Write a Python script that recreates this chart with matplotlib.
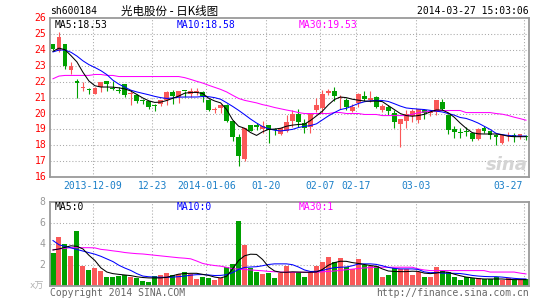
import matplotlib
matplotlib.use("Agg")
import matplotlib.pyplot as plt
import matplotlib.transforms as mtrans

# ---------------- data ----------------
opens = [24.35, 23.95, 24.35, 22.77, 22.02, 21.60, 21.56, 21.25, 21.67, 22.02,
         21.60, 21.50, 21.83, 21.20, 21.19, 20.85, 20.79, 20.50, 20.62, 20.83,
         21.33, 21.04, 21.45, 21.25, 21.30, 21.33, 20.88, 20.20, 20.35, 20.55,
         19.52, 18.50, 17.13, 19.27, 19.22, 19.00, 19.25, 19.00, 18.70, 18.90,
         19.52, 19.96, 19.42, 19.17, 20.20, 20.35, 21.30, 21.40, 20.95, 20.83,
         20.17, 20.67, 21.13, 20.83, 21.04, 20.25, 20.38, 20.04, 19.33, 19.54,
         19.83, 19.58, 20.20, 20.05, 20.10, 20.73, 19.90, 19.02, 18.80, 18.87,
         18.75, 18.40, 19.06, 18.90, 18.65, 18.17, 18.58, 18.65, 18.50, 18.60]
highs = [24.40, 25.12, 24.40, 23.27, 22.20, 21.98, 21.58, 21.68, 22.00, 22.05,
         22.08, 21.67, 21.85, 21.50, 21.25, 20.92, 20.80, 20.62, 20.88, 21.42,
         21.50, 21.42, 21.45, 21.63, 21.58, 21.40, 20.90, 20.38, 20.60, 20.60,
         19.55, 18.70, 19.10, 19.30, 19.38, 19.54, 19.30, 19.06, 19.10, 19.90,
         20.20, 20.27, 19.63, 20.00, 21.00, 21.46, 21.56, 21.70, 21.15, 21.00,
         20.60, 21.28, 21.40, 21.40, 21.08, 20.62, 20.52, 20.20, 19.65, 20.20,
         20.30, 20.30, 20.30, 20.20, 20.85, 20.90, 19.95, 19.20, 19.10, 19.12,
         18.77, 19.06, 19.20, 18.92, 18.70, 18.67, 18.85, 18.75, 18.73, 18.65]
lows = [24.00, 23.90, 22.78, 22.50, 20.98, 21.40, 21.20, 21.20, 21.35, 21.42,
        21.50, 21.30, 21.04, 20.52, 20.66, 20.63, 20.30, 20.17, 20.46, 20.52,
        20.62, 20.67, 21.04, 21.04, 21.15, 20.73, 20.17, 20.04, 20.04, 19.44,
        18.29, 16.67, 16.98, 18.90, 18.96, 18.75, 18.13, 18.65, 18.63, 18.85,
        19.17, 19.17, 18.80, 18.79, 20.10, 20.04, 21.15, 20.80, 20.30, 20.25,
        20.10, 20.42, 20.80, 20.73, 20.35, 20.10, 19.90, 19.10, 17.92, 19.10,
        19.48, 19.42, 19.63, 19.83, 19.90, 20.20, 18.71, 18.44, 18.44, 18.58,
        18.29, 18.33, 18.75, 18.38, 18.02, 18.08, 18.29, 18.23, 18.38, 18.35]
closes = [24.05, 24.80, 22.98, 22.98, 21.94, 21.65, 21.47, 21.63, 21.98, 21.83,
          21.56, 21.42, 21.19, 21.28, 20.79, 20.80, 20.42, 20.45, 20.83, 21.33,
          21.08, 21.40, 21.42, 21.40, 21.45, 21.13, 20.25, 20.30, 20.52, 19.52,
          18.50, 17.33, 19.06, 18.92, 19.18, 19.20, 18.96, 18.96, 19.06, 19.48,
          20.00, 19.48, 19.06, 19.96, 20.52, 21.20, 21.40, 21.10, 21.00, 20.38,
          20.38, 21.25, 20.90, 21.00, 20.38, 20.46, 20.17, 19.48, 19.63, 19.96,
          20.15, 20.27, 20.04, 20.10, 20.83, 20.30, 18.96, 18.85, 18.77, 18.84,
          18.38, 19.02, 18.92, 18.65, 18.50, 18.65, 18.63, 18.50, 18.71, 18.53]

ma5 = [23.92, 24.12, 24.02, 23.65, 23.25, 22.60, 22.05, 21.75, 21.67, 21.67,
       21.66, 21.62, 21.55, 21.42, 21.20, 20.98, 20.80, 20.70, 20.72, 20.82,
       20.96, 21.10, 21.28, 21.33, 21.33, 21.26, 20.96, 20.79, 20.67, 20.25,
       19.60, 19.20, 19.07, 18.80, 18.62, 18.85, 19.00, 19.02, 19.07, 19.20,
       19.27, 19.31, 19.33, 19.56, 19.85, 20.15, 20.55, 20.88, 21.04, 21.00,
       20.90, 20.84, 20.79, 20.77, 20.79, 20.75, 20.50, 20.25, 20.00, 19.87,
       19.83, 19.87, 19.95, 20.10, 20.22, 20.22, 20.05, 19.77, 19.40, 19.07,
       18.80, 18.72, 18.71, 18.71, 18.71, 18.66, 18.57, 18.54, 18.54, 18.54]
ma10 = [23.88, 24.00, 24.00, 23.86, 23.62, 23.32, 23.08, 22.90, 22.70, 22.45,
        22.10, 21.85, 21.66, 21.47, 21.36, 21.27, 21.18, 21.08, 21.00, 20.95,
        20.98, 21.03, 21.04, 21.04, 21.04, 21.07, 21.06, 21.00, 20.90, 20.68,
        20.45, 20.20, 19.93, 19.65, 19.40, 19.18, 19.04, 18.95, 18.90, 18.95,
        19.00, 19.12, 19.19, 19.24, 19.35, 19.60, 19.85, 20.06, 20.25, 20.33,
        20.48, 20.63, 20.74, 20.80, 20.83, 20.82, 20.76, 20.62, 20.47, 20.35,
        20.31, 20.28, 20.25, 20.20, 20.15, 20.10, 20.00, 19.90, 19.75, 19.69,
        19.56, 19.40, 19.20, 19.00, 18.75, 18.67, 18.62, 18.59, 18.58, 18.58]
ma30 = [22.19, 22.36, 22.40, 22.40, 22.40, 22.40, 22.40, 22.46, 22.46, 22.40,
        22.40, 22.33, 22.33, 22.33, 22.33, 22.33, 22.33, 22.33, 22.33, 22.33,
        22.33, 22.33, 22.26, 22.15, 22.03, 21.92, 21.78, 21.65, 21.52, 21.36,
        21.15, 20.95, 20.83, 20.75, 20.67, 20.56, 20.48, 20.38, 20.30, 20.22,
        20.15, 20.06, 20.00, 20.00, 20.00, 20.00, 20.00, 20.06, 20.06, 20.00,
        20.00, 20.00, 19.94, 19.94, 19.94, 19.87, 19.87, 19.87, 19.87, 19.87,
        19.95, 20.05, 20.10, 20.15, 20.19, 20.19, 20.19, 20.19, 20.19, 20.06,
        20.06, 20.06, 20.06, 20.06, 20.00, 19.96, 19.88, 19.77, 19.68, 19.58]

volumes = [3.10, 4.64, 4.00, 2.82, 5.18, 1.86, 1.54, 1.66, 1.44, 0.86,
           0.86, 0.96, 1.06, 0.86, 0.74, 0.48, 0.38, 0.90, 1.06, 1.18,
           1.06, 1.12, 1.28, 1.12, 0.64, 0.86, 0.74, 0.58, 0.74, 1.82,
           2.02, 6.14, 3.84, 1.66, 1.34, 1.12, 1.18, 0.70, 1.22, 1.86,
           1.28, 1.28, 0.80, 1.34, 1.92, 2.30, 2.78, 2.24, 2.62, 1.76,
           1.60, 2.50, 1.98, 1.92, 1.86, 0.86, 1.06, 1.66, 1.60, 1.60,
           1.06, 1.28, 0.86, 0.80, 1.82, 1.44, 1.34, 0.86, 0.58, 0.86,
           0.70, 0.70, 0.64, 0.64, 0.86, 0.58, 0.70, 0.58, 0.58, 0.64]
vma5 = [3.40, 3.50, 3.65, 3.80, 3.75, 3.50, 2.90, 2.40, 1.70, 1.30,
        1.15, 1.08, 1.02, 0.96, 0.85, 0.78, 0.74, 0.74, 0.74, 0.80,
        0.95, 1.10, 1.16, 1.18, 1.18, 1.08, 0.98, 0.82, 0.74, 0.90,
        1.60, 2.40, 2.85, 3.00, 2.98, 2.50, 1.80, 1.40, 1.28, 1.28,
        1.32, 1.30, 1.28, 1.28, 1.30, 1.55, 1.95, 2.20, 2.33, 2.32,
        2.20, 2.12, 2.02, 1.92, 1.85, 1.60, 1.40, 1.36, 1.34, 1.34,
        1.38, 1.36, 1.20, 1.15, 1.20, 1.32, 1.28, 1.10, 0.95, 0.82,
        0.75, 0.68, 0.64, 0.64, 0.64, 0.64, 0.60, 0.58, 0.58, 0.58]
vma10 = [4.30, 3.90, 3.75, 3.60, 3.45, 3.30, 3.15, 3.00, 2.80, 2.55,
         2.30, 1.95, 1.68, 1.45, 1.15, 0.92, 0.85, 0.82, 0.80, 0.80,
         0.82, 0.86, 0.92, 1.00, 1.05, 1.06, 1.02, 0.97, 0.98, 1.05,
         1.25, 1.55, 1.74, 1.78, 1.81, 1.90, 2.02, 2.08, 2.08, 2.08,
         2.00, 1.78, 1.50, 1.35, 1.37, 1.45, 1.60, 1.72, 1.76, 1.78,
         1.90, 2.06, 2.08, 2.08, 2.03, 1.90, 1.74, 1.65, 1.60, 1.60,
         1.60, 1.55, 1.32, 1.24, 1.26, 1.20, 1.18, 1.18, 1.16, 1.08,
         0.98, 0.92, 0.88, 0.86, 0.86, 0.82, 0.76, 0.70, 0.66, 0.64]
vma30 = [3.42, 3.50, 3.56, 3.62, 3.62, 3.62, 3.62, 3.60, 3.46, 3.40,
         3.32, 3.25, 3.16, 3.10, 3.05, 3.02, 2.96, 2.90, 2.84, 2.78,
         2.72, 2.66, 2.62, 2.56, 2.35, 2.12, 2.00, 1.92, 1.86, 1.75,
         1.62, 1.58, 1.54, 1.50, 1.46, 1.42, 1.36, 1.33, 1.30, 1.28,
         1.28, 1.28, 1.28, 1.28, 1.28, 1.32, 1.36, 1.40, 1.46, 1.52,
         1.58, 1.64, 1.69, 1.73, 1.76, 1.76, 1.76, 1.76, 1.76, 1.76,
         1.76, 1.60, 1.50, 1.44, 1.44, 1.44, 1.44, 1.44, 1.44, 1.44,
         1.44, 1.44, 1.44, 1.30, 1.30, 1.30, 1.30, 1.30, 1.20, 1.12]

date_idx = [7, 17, 26, 36, 45, 51, 61, 79]
date_labels = ["2013-12-09", "12-23", "2014-01-06", "01-20",
               "02-07", "02-17", "03-03", "03-27"]
price_ticks = list(range(16, 27))
vol_ticks = [2, 4, 6, 8]

# ---------------- style ----------------
W, H = 545, 300
RED = "#fa5858"
GREEN = "#00a000"
GRID = "#a8a8a8"
FRAME = "#9a9a9a"
MONO = "DejaVu Sans Mono"
FS = 7
LW = 0.75

fig = plt.figure(figsize=(W / 100, H / 100), dpi=100)
fig.patch.set_facecolor("white")


def axrect(left, top, right, bottom):
    return [left / W, 1 - bottom / H, (right - left) / W, (bottom - top) / H]


ax = fig.add_axes(axrect(50, 18.3, 529, 177))
axv = fig.add_axes(axrect(50, 201.7, 529, 285.7))

n = len(closes)
for a in (ax, axv):
    a.set_xlim(-0.5, n - 0.5)
    a.set_xticks([])
    a.set_yticks([])
    for s in a.spines.values():
        s.set_color(FRAME)
        s.set_linewidth(1.3)

ax.set_ylim(16, 26)
axv.set_ylim(0, 8)

dot = (0, (1, 2))
for a, hl in ((ax, price_ticks[1:-1]), (axv, vol_ticks[:-1])):
    for v in hl:
        a.axhline(v, color=GRID, lw=0.75, ls=dot, zorder=0)
    for i in date_idx:
        a.axvline(i - 0.4, color=GRID, lw=0.75, ls=dot, zorder=0)

# candles
for i in range(n):
    o, h, l, c = opens[i], highs[i], lows[i], closes[i]
    col = RED if c >= o else GREEN
    ax.vlines(i, l, h, color=col, lw=0.8, zorder=2)
    bot = min(o, c)
    ht = max(abs(c - o), 0.07)
    ax.bar(i, ht, bottom=bot, width=0.8, color=col, linewidth=0,
           antialiased=False, zorder=2)
    axv.bar(i, volumes[i], width=0.84, color=col, linewidth=0,
            antialiased=False, zorder=2)

xs = list(range(n))
ax.plot(xs, ma30, color="#ff00ff", lw=LW, zorder=3)
ax.plot(xs, ma10, color="#0000ff", lw=LW, zorder=3)
ax.plot(xs, ma5, color="black", lw=LW, zorder=4)
axv.plot(xs, vma30, color="#ff00ff", lw=LW, zorder=3)
axv.plot(xs, vma10, color="#0000ff", lw=LW, zorder=3)
axv.plot(xs, vma5, color="black", lw=LW, zorder=4)

# y labels
tp = mtrans.blended_transform_factory(fig.transFigure, ax.transData)
for v in price_ticks:
    fig.text(46.5 / W, v, str(v), transform=tp, ha="right", va="center",
             color="#ff0000", family=MONO, fontsize=FS)
tv = mtrans.blended_transform_factory(fig.transFigure, axv.transData)
for v in vol_ticks:
    fig.text(45.5 / W, v, str(v), transform=tv, ha="right", va="center",
             color="#999999", family=MONO, fontsize=FS)
fig.text(44 / W, 1 - 286 / H, "x万", ha="right", va="center",
         color="#b0b0b0", family=[MONO, "Noto Sans CJK SC"], fontsize=6.5)

# x labels
tx = mtrans.blended_transform_factory(ax.transData, fig.transFigure)
for i, lab in zip(date_idx, date_labels):
    if i == date_idx[-1]:
        fig.text(523 / W, 1 - 186 / H, lab, ha="right", va="center",
                 color="#1a7fc8", family=MONO, fontsize=FS)
    else:
        fig.text(i - 0.4, 1 - 186 / H, lab, transform=tx, ha="center",
                 va="center", color="#1a7fc8", family=MONO, fontsize=FS)

# header
fig.text(50 / W, 1 - 11.5 / H, "sh600184", ha="left", va="center",
         color="black", family=MONO, fontsize=FS)
fig.text(121 / W, 1 - 11.5 / H, "光电股份 - 日K线图", ha="left", va="center",
         color="black", family=["Noto Sans CJK SC", "DejaVu Sans"], fontsize=8.3)
fig.text(529 / W, 1 - 11.5 / H, "2014-03-27 15:03:06", ha="right",
         va="center", color="black", family=MONO, fontsize=FS)

# MA legends
for a, ytop, labs in ((ax, 25, ["MA5:18.53", "MA10:18.58", "MA30:19.53"]),
                      (axv, 206.5, ["MA5:0", "MA10:0", "MA30:1"])):
    for xp, lab, col in zip((55, 177, 299), labs,
                            ("black", "#0000ff", "#ff00ff")):
        fig.text(xp / W, 1 - ytop / H, lab, ha="left", va="center",
                 color=col, family=MONO, fontsize=FS)

# footer
fig.text(50 / W, 1 - 292.5 / H, "Copyright 2014 SINA.COM", ha="left",
         va="center", color="#666666", family=MONO, fontsize=FS)
fig.text(529 / W, 1 - 292.5 / H, "http://finance.sina.com.cn", ha="right",
         va="center", color="#666666", family=MONO, fontsize=FS)

# watermark
fig.text(507 / W, 1 - 165 / H, "sina", ha="center", va="center",
         color="#d4d4d4", fontsize=13, fontweight="bold", fontstyle="italic")

fig.savefig("out.png", dpi=100)
